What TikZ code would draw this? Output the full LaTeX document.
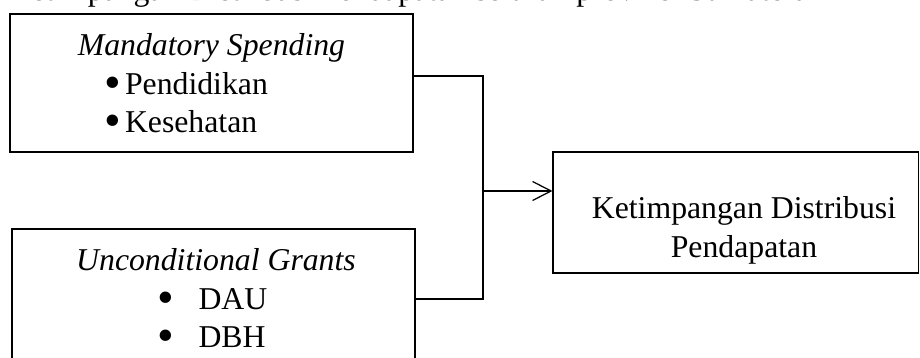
\documentclass[tikz,border=0pt]{standalone}
\usepackage{fontspec}
\setmainfont{Liberation Serif}
\usetikzlibrary{arrows.meta}
\newcommand{\bigbul}{\smash{\raisebox{-0.1em}{\scalebox{1.5}{\textbullet}}}}
\begin{document}
\begin{tikzpicture}[x=0.4pt,y=-0.4pt,
  every node/.style={font=\fontsize{12.7pt}{15.2pt}\selectfont},
  boxnode/.style={draw,line width=0.45pt,inner sep=0pt,rectangle},
  txt/.style={inner sep=0pt,anchor=base},
  btxt/.style={inner sep=0pt,anchor=base west},
  link/.style={line width=0.5pt},
  arr/.style={line width=0.5pt,-{Straight Barb[length=7.4pt,width=7.6pt,line width=0.5pt]}}]
\useasboundingbox (0,0) rectangle (920,358);
\clip (0,0) rectangle (920,358);
% partly cut heading line
\node[btxt] (head) at (8,1) {Ketimpangan Distribusi Pendapatan seluruh provinsi Sumatera};
% boxes
\node[boxnode,minimum width=161.2pt,minimum height=55.2pt] (box1) at (211.5,83) {};
\node[boxnode,minimum width=161.2pt,minimum height=56pt] (box2) at (213.5,299) {};
\node[boxnode,minimum width=146.2pt,minimum height=48.4pt] (box3) at (735.75,212.5) {};
% texts box1
\node[txt] (t1) at (211.5,56) {\textit{Mandatory Spending}};
\node[btxt] (t1a) at (104,95) {\makebox[8.2pt][l]{\bigbul}Pendidikan};
\node[btxt] (t1b) at (104,133) {\makebox[8.2pt][l]{\bigbul}Kesehatan};
% texts box2
\node[txt] (t2) at (216,271) {\textit{Unconditional Grants}};
\node[btxt] (t2a) at (157,310) {\makebox[16.4pt][l]{\bigbul}DAU};
\node[btxt] (t2b) at (157,348) {\makebox[16.4pt][l]{\bigbul}DBH};
% texts box3
\node[txt] (t3a) at (744,219) {Ketimpangan Distribusi};
\node[txt] (t3b) at (744,258) {Pendapatan};
% connectors
\coordinate (c1) at (483,76);
\coordinate (c2) at (483,299);
\coordinate (j) at (483,191);
\draw[link] (box1.east |- c1) -- (c1) -- (c2) -- (box2.east);
\draw[arr] (j) -- (j -| box3.west);
\end{tikzpicture}
\end{document}
